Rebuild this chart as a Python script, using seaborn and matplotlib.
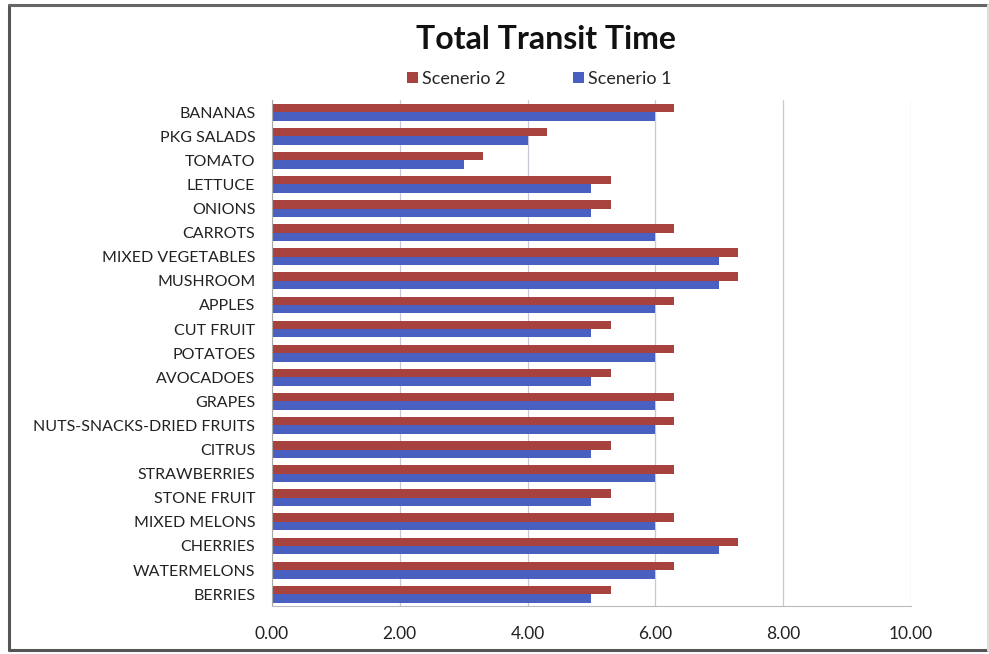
import matplotlib
matplotlib.use("Agg")
import matplotlib.pyplot as plt
import seaborn as sns
import pandas as pd
from matplotlib.lines import Line2D

categories = ["BANANAS", "PKG SALADS", "TOMATO", "LETTUCE", "ONIONS", "CARROTS",
              "MIXED VEGETABLES", "MUSHROOM", "APPLES", "CUT FRUIT", "POTATOES",
              "AVOCADOES", "GRAPES", "NUTS-SNACKS-DRIED FRUITS", "CITRUS",
              "STRAWBERRIES", "STONE FRUIT", "MIXED MELONS", "CHERRIES",
              "WATERMELONS", "BERRIES"]
scenario1 = [6, 4, 3, 5, 5, 6, 7, 7, 6, 5, 6, 5, 6, 6, 5, 6, 5, 6, 7, 6, 5]
scenario2 = [6.3, 4.3, 3.3, 5.3, 5.3, 6.3, 7.3, 7.3, 6.3, 5.3, 6.3, 5.3, 6.3, 6.3,
             5.3, 6.3, 5.3, 6.3, 7.3, 6.3, 5.3]
series_names = ["Scenerio 2", "Scenerio 1"]
xticks = [0, 2, 4, 6, 8, 10]

df = pd.DataFrame({
    "category": categories * 2,
    "value": scenario2 + scenario1,
    "series": [series_names[0]] * len(categories) + [series_names[1]] * len(categories),
})

sns.set_style("white")
plt.rcParams["font.family"] = ["Lato", "DejaVu Sans"]

fig = plt.figure(figsize=(9.89, 6.54), dpi=100)
ax = fig.add_axes([0.275, 0.073, 0.646, 0.774])

palette = {"Scenerio 2": "#A8423F", "Scenerio 1": "#4A60C0"}
sns.barplot(data=df, y="category", x="value", hue="series", order=categories,
            hue_order=series_names, palette=palette, orient="h", width=0.7,
            gap=0, linewidth=0, saturation=1, ax=ax, legend=True)

ax.set_xlim(0, 10)
ax.set_xticks(xticks)
ax.set_xticklabels([f"{v:.2f}" for v in xticks], fontsize=12.5, color="#222222")
ax.tick_params(axis="y", labelsize=11.5, colors="#222222", length=0, pad=12)
ax.tick_params(axis="x", length=0, pad=14)
ax.set_xlabel("")
ax.set_ylabel("")
ax.grid(axis="x", color="#C8C8D4", linewidth=0.9)
ax.set_axisbelow(True)
for s in ["top", "right"]:
    ax.spines[s].set_visible(False)
ax.spines["left"].set_color("#AAAAAA")
ax.spines["bottom"].set_color("#BBBBBB")
ax.spines["bottom"].set_linestyle((0, (1, 1)))

leg = ax.legend(loc="lower center", bbox_to_anchor=(0.4185, 1.005), ncol=2, frameon=False,
                fontsize=13, handlelength=0.6, handleheight=0.6, handletextpad=0.25,
                columnspacing=3.7, borderaxespad=0.2)

fig.text(0.552, 0.940, "Total Transit Time", ha="center", va="center",
         fontsize=23, fontweight="bold", color="#111111")

# outer chart border
bx0, bx1, by0, by1 = 8.5 / 989, 987.5 / 989, 1 - 650 / 654, 1 - 5 / 654
for xs, ys, c in [((bx0, bx0), (by0, by1), "#555555"),
                  ((bx0, bx1), (by1, by1), "#666666"),
                  ((bx0, bx1), (by0, by0), "#555555"),
                  ((bx1, bx1), (by0, by1), "#DDDDDD")]:
    fig.add_artist(Line2D(xs, ys, transform=fig.transFigure, color=c, linewidth=2.2))

fig.savefig("out.png", dpi=100)
